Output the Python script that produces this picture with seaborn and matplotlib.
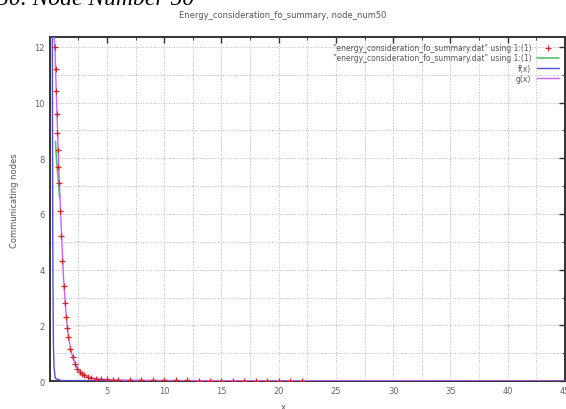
#IMPORTING NECESSARY LIBRARIES
import matplotlib
matplotlib.use("Agg")
import matplotlib.pyplot as plt
from matplotlib.ticker import MultipleLocator
import numpy as np
import seaborn as sns

#DATA
data_x = [0.45, 0.5, 0.55, 0.6, 0.65, 0.7, 0.75, 0.8, 0.9, 1.0, 1.1, 1.2, 1.3, 1.4, 1.5,
          1.6, 1.8, 2.0, 2.2, 2.4, 2.6, 2.8, 3.0, 3.3, 3.6, 4.0, 4.5, 5.0, 5.5, 6.0,
          7.0, 8.0, 9.0, 10.0, 11.0, 12.0, 13.0, 14.0, 15.0, 16.0, 17.0, 18.0, 19.0,
          20.0, 21.0, 22.0]
data_y = [12.0, 11.2, 10.4, 9.6, 8.9, 8.3, 7.7, 7.1, 6.1, 5.2, 4.3, 3.4, 2.8, 2.3, 1.9,
          1.6, 1.15, 0.85, 0.6, 0.45, 0.34, 0.27, 0.21, 0.16, 0.12, 0.09, 0.07, 0.06,
          0.05, 0.05, 0.04, 0.04, 0.03, 0.03, 0.03, 0.03, 0.02, 0.02, 0.02, 0.02, 0.02,
          0.02, 0.02, 0.02, 0.01, 0.01]

f_x = [0.22, 0.23, 0.24, 0.25, 0.27, 0.29, 0.32, 0.37, 0.48, 1.0, 45.0]
f_y = [12.4, 10.0, 8.0, 6.0, 4.0, 2.5, 1.2, 0.5, 0.1, 0.02, 0.0]

green_x = [0.5, 0.55, 0.62, 0.7, 0.78, 0.85]
green_y = [8.6, 8.2, 7.8, 7.4, 7.0, 6.6]

g_x = [0.38, 0.45, 0.55, 0.65, 0.75, 0.85, 1.0, 1.2, 1.4, 1.6, 1.8, 2.0, 2.4, 2.8,
       3.2, 3.6, 4.0, 5.0, 6.0, 8.0, 12.0, 20.0, 45.0]
g_y = [12.4, 11.9, 10.6, 9.3, 8.1, 7.0, 5.5, 3.7, 2.5, 1.7, 1.2, 0.85, 0.46, 0.27,
       0.17, 0.12, 0.09, 0.05, 0.04, 0.03, 0.02, 0.01, 0.0]

legend_labels = ['"energy_consideration_fo_summary.dat" using 1:(1)',
                 '"energy_consideration_fo_summary.dat" using 1:(1)',
                 'f(x)', 'g(x)']

#SETTING THE GRAPH SIZE
sns.set_style("white")
plt.rcParams['font.family'] = ['DejaVu Sans']
fig = plt.figure(figsize=(5.66, 4.10), dpi=100)
ax = fig.add_axes([0.088, 0.068, 0.910, 0.839])

#CURVES AND POINTS
sns.lineplot(x=green_x, y=green_y, ax=ax, color='#50c070', linewidth=1.2,
             sort=False, zorder=2)
sns.lineplot(x=f_x, y=f_y, ax=ax, color='#5050e0', linewidth=1.0,
             sort=False, zorder=3)
sns.lineplot(x=g_x, y=g_y, ax=ax, color='#d060f0', linewidth=1.0,
             sort=False, zorder=4)
ax.plot(data_x, data_y, linestyle='none', marker='+', color='#d02828',
        markersize=4, markeredgewidth=0.9, zorder=5)
green_line, blue_line, magenta_line, red_pts = ax.lines[:4]

#AXES, TICKS, GRID
ax.set_xlim(0, 45)
ax.set_ylim(0, 12.35)
ax.xaxis.set_minor_locator(MultipleLocator(2.5))
ax.yaxis.set_major_locator(MultipleLocator(2))
ax.yaxis.set_minor_locator(MultipleLocator(1))
ax.set_xticks(np.arange(5, 50, 5))
ax.tick_params(which='major', direction='in', length=4, width=1.0, labelsize=6,
               top=True, right=True, colors='#333333', labelcolor='#666666')
ax.tick_params(which='minor', direction='in', length=2, top=True, right=True,
               colors='#333333')
ax.grid(which='both', color='#bbbbbb', linestyle=':', linewidth=0.7)
for side in ax.spines.values():
    side.set_linewidth(1.4)
    side.set_color('#333333')

#LEGEND (GNUPLOT STYLE: TEXT RIGHT, SAMPLE AFTER)
leg = ax.legend([red_pts, green_line, blue_line, magenta_line], legend_labels,
                loc='upper right', frameon=False, fontsize=5.5, markerfirst=False,
                handlelength=2.8, labelspacing=0.15, borderaxespad=0.4,
                alignment='right')
for t in leg.get_texts():
    t.set_ha('right')
    t.set_color('#555555')

#TEXTS
fig.text(0.5, 1 - 15 / 410, 'Energy_consideration_fo_summary, node_num50',
         ha='center', va='center', fontsize=6, color='#555555')
fig.text(15 / 566, 0.51, 'Communicating nodes', rotation=90, ha='center',
         va='center', fontsize=6, color='#555555')
fig.text(0.5, 1 - 403 / 410, 'x', ha='center', va='top', fontsize=6, color='#555555')
fig.text(-0.005, 1 - 5 / 410, '50. Node Number 50', ha='left', va='baseline',
         fontsize=17, family='Liberation Serif', style='italic', color='black')

plt.savefig('out.png', dpi=100)
